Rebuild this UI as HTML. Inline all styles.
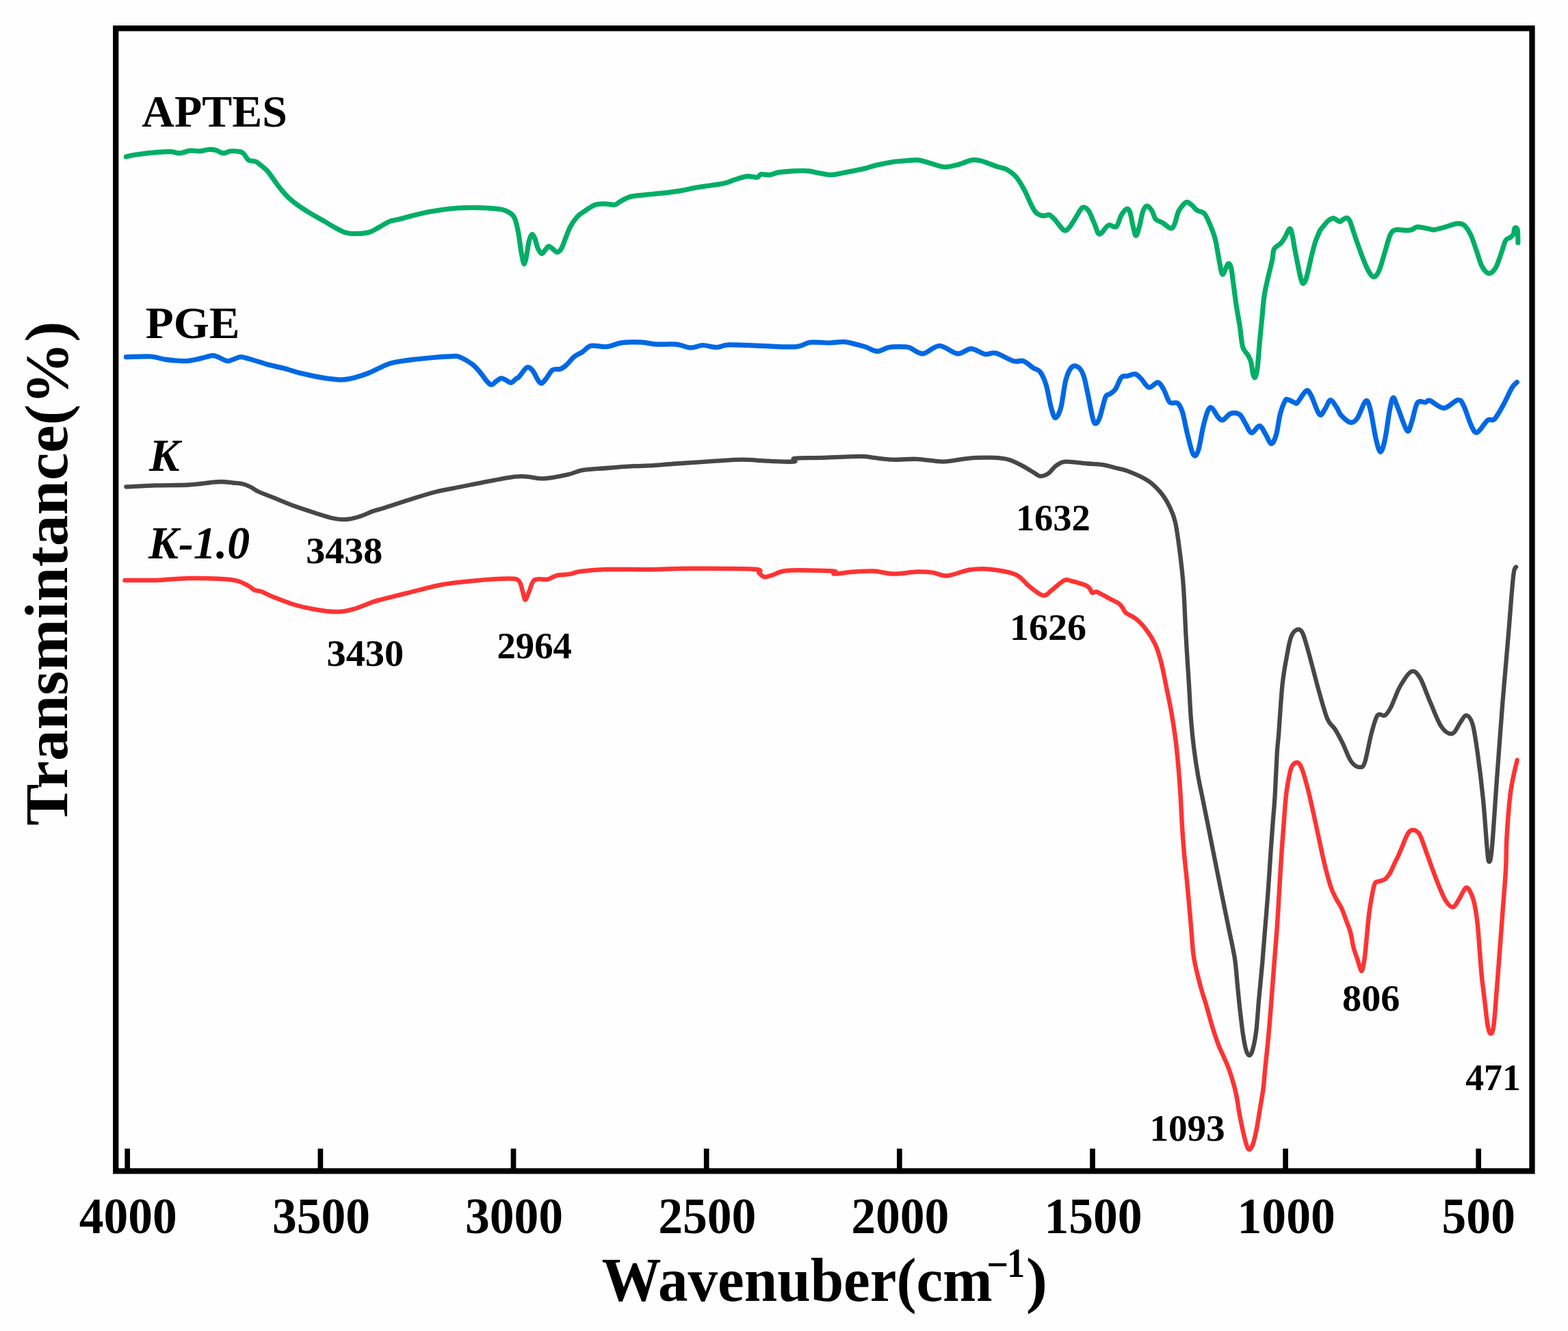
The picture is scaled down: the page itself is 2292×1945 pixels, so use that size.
<!DOCTYPE html>
<html><head><meta charset="utf-8"><title>FTIR spectra</title><style>
html,body{margin:0;padding:0;background:#fefefe;}
svg{display:block;}
text{font-family:"Liberation Serif","Times New Roman",serif;font-weight:bold;fill:#000;}
</style></head><body>
<svg width="2292" height="1945" viewBox="0 0 2292 1945">
<rect x="0" y="0" width="2292" height="1945" fill="#fefefe"/>
<g fill="none" stroke-linejoin="round" stroke-linecap="round">
<path d="M184.4,228.9 C186.8,228.4 191.2,227.1 198.9,226.0 C206.6,224.9 222.2,223.1 230.6,222.4 C239.0,221.7 244.1,221.4 249.4,221.6 C254.7,221.8 257.6,224.0 262.4,223.8 C267.2,223.6 273.1,220.7 278.2,220.2 C283.2,219.7 288.1,221.2 292.7,220.9 C297.3,220.6 301.8,218.7 305.6,218.5 C309.4,218.3 312.8,218.8 315.7,219.5 C318.6,220.2 320.8,222.3 323.0,223.0 C325.2,223.7 326.5,224.1 328.7,223.8 C330.9,223.5 332.4,221.4 336.0,221.0 C339.6,220.6 347.0,221.0 350.4,221.6 C353.8,222.2 353.9,222.4 356.1,224.5 C358.3,226.6 360.5,232.0 363.4,233.9 C366.3,235.8 370.6,234.8 373.5,236.0 C376.4,237.2 377.8,238.8 380.7,241.1 C383.6,243.4 387.4,246.1 390.8,249.8 C394.2,253.5 397.3,258.7 400.9,263.5 C404.5,268.3 408.5,274.0 412.4,278.6 C416.2,283.2 419.9,287.2 424.0,290.9 C428.1,294.6 431.8,297.4 437.0,301.0 C442.2,304.6 448.8,308.8 455.0,312.5 C461.2,316.2 468.8,320.2 474.4,323.5 C480.0,326.8 484.1,329.6 488.9,332.2 C493.7,334.8 498.5,337.8 503.3,339.4 C508.1,340.9 511.7,341.5 517.7,341.5 C523.7,341.5 533.4,340.9 539.4,339.4 C545.4,337.8 548.8,334.8 553.8,332.2 C558.8,329.6 564.9,325.4 569.7,323.5 C574.5,321.6 576.9,322.1 582.7,320.6 C588.5,319.2 597.1,316.6 604.3,314.8 C611.5,313.0 618.8,311.2 626.0,309.8 C633.2,308.4 640.4,307.2 647.6,306.2 C654.8,305.2 662.0,304.5 669.2,304.0 C676.4,303.5 683.7,303.3 690.9,303.3 C698.1,303.3 705.3,303.5 712.5,304.0 C719.7,304.5 728.9,305.1 734.2,306.2 C739.5,307.3 741.9,309.2 744.3,310.5 C746.7,311.8 747.3,312.2 748.7,313.7 C750.1,315.2 751.3,316.6 752.5,319.5 C753.7,322.4 754.8,326.7 755.8,331.0 C756.8,335.3 757.7,339.7 758.6,345.4 C759.5,351.1 760.5,359.2 761.4,365.0 C762.3,370.8 763.4,376.6 764.2,380.0 C765.0,383.4 765.5,386.4 766.4,385.5 C767.3,384.6 768.5,379.8 769.6,374.3 C770.7,368.8 771.9,358.0 773.2,352.7 C774.5,347.4 776.1,343.3 777.5,342.6 C778.9,341.9 780.3,344.9 781.8,348.3 C783.2,351.7 784.5,359.1 786.2,362.8 C787.9,366.5 790.0,370.5 791.9,370.7 C793.8,370.9 796.0,366.0 797.7,364.2 C799.4,362.4 800.3,360.0 802.0,359.9 C803.7,359.8 805.8,362.1 807.8,363.5 C809.8,364.9 812.1,368.6 814.3,368.5 C816.5,368.4 818.8,366.2 820.8,362.8 C822.8,359.4 824.4,353.6 826.6,348.3 C828.8,343.0 830.9,336.3 833.8,331.0 C836.7,325.7 840.3,320.5 843.9,316.6 C847.5,312.8 851.1,310.8 855.4,307.9 C859.7,305.0 865.1,301.0 869.9,299.3 C874.7,297.6 879.5,297.8 884.3,297.8 C889.1,297.8 895.1,299.8 898.7,299.3 C902.3,298.8 902.3,296.8 905.9,294.9 C909.5,293.0 914.4,289.4 920.4,287.7 C926.4,286.0 934.8,285.6 942.0,284.8 C949.2,284.0 955.3,283.6 963.7,282.7 C972.1,281.8 984.1,280.4 992.5,279.1 C1000.9,277.8 1008.0,275.9 1014.2,274.7 C1020.5,273.5 1022.5,273.3 1030.0,272.2 C1037.5,271.1 1051.7,269.4 1058.9,267.8 C1066.1,266.2 1067.8,264.5 1073.3,262.8 C1078.8,261.1 1086.5,258.3 1092.0,257.7 C1097.5,257.1 1103.1,259.7 1106.5,259.2 C1109.9,258.7 1109.2,255.4 1112.3,254.8 C1115.4,254.2 1120.9,256.1 1125.2,255.6 C1129.5,255.1 1132.4,252.9 1138.2,251.9 C1144.0,250.9 1152.7,250.2 1159.9,249.8 C1167.1,249.5 1175.5,249.3 1181.5,249.8 C1187.5,250.3 1190.5,251.7 1196.0,252.7 C1201.5,253.7 1208.7,255.6 1214.7,255.6 C1220.7,255.6 1224.8,254.0 1232.0,252.7 C1239.2,251.4 1249.6,249.5 1258.0,247.6 C1266.4,245.7 1274.8,242.9 1282.5,241.1 C1290.2,239.3 1298.0,237.8 1304.2,236.8 C1310.5,235.8 1313.8,235.7 1320.0,235.2 C1326.2,234.7 1335.1,233.4 1341.6,233.9 C1348.1,234.4 1352.5,236.5 1359.0,238.2 C1365.5,239.9 1373.6,243.6 1380.6,244.0 C1387.6,244.4 1394.1,242.1 1400.8,240.4 C1407.5,238.7 1415.2,234.7 1421.0,233.9 C1426.8,233.1 1429.4,233.8 1435.4,235.4 C1441.4,237.0 1451.1,241.3 1457.1,243.3 C1463.1,245.3 1466.7,244.9 1471.5,247.6 C1476.3,250.2 1481.6,254.1 1485.9,259.2 C1490.2,264.2 1493.9,271.2 1497.5,277.9 C1501.1,284.6 1504.7,294.1 1507.6,299.6 C1510.5,305.1 1511.9,308.5 1514.8,311.1 C1517.7,313.7 1521.8,314.9 1524.9,315.4 C1528.0,315.9 1530.7,313.0 1533.6,314.0 C1536.5,315.0 1538.6,317.5 1542.2,321.2 C1545.8,324.9 1551.6,334.7 1555.2,336.4 C1558.8,338.1 1560.8,334.8 1563.9,331.3 C1567.0,327.8 1570.9,320.1 1574.0,315.4 C1577.1,310.7 1579.7,304.4 1582.6,303.2 C1585.5,302.0 1588.4,304.2 1591.3,308.2 C1594.2,312.2 1597.2,321.4 1599.9,327.0 C1602.6,332.6 1603.8,341.7 1607.2,342.1 C1610.6,342.5 1616.0,331.0 1620.1,329.2 C1624.2,327.4 1628.5,333.7 1631.6,331.3 C1634.7,328.9 1636.4,319.0 1638.9,314.7 C1641.4,310.4 1644.7,306.1 1646.8,305.4 C1648.9,304.7 1650.2,306.2 1651.8,310.4 C1653.4,314.6 1654.8,325.0 1656.2,330.6 C1657.7,336.2 1658.9,344.3 1660.5,344.3 C1662.1,344.3 1663.9,336.5 1665.6,330.6 C1667.3,324.7 1668.8,313.9 1670.6,309.0 C1672.4,304.1 1674.2,301.2 1676.4,301.0 C1678.6,300.8 1681.4,304.2 1683.6,307.5 C1685.8,310.8 1686.8,317.5 1689.4,320.5 C1692.1,323.5 1695.9,323.4 1699.5,325.6 C1703.1,327.8 1708.1,333.1 1711.0,333.5 C1713.9,333.9 1714.9,331.8 1716.8,327.7 C1718.7,323.6 1720.4,313.8 1722.6,309.0 C1724.8,304.2 1727.6,301.2 1729.8,298.9 C1732.0,296.6 1733.3,295.1 1735.5,295.3 C1737.7,295.5 1740.4,298.3 1742.8,300.3 C1745.2,302.3 1747.1,305.6 1750.0,307.5 C1752.9,309.4 1757.2,308.9 1760.1,311.8 C1763.0,314.7 1764.7,318.8 1767.3,324.8 C1769.9,330.8 1773.5,339.0 1775.9,347.9 C1778.3,356.8 1780.0,369.5 1781.7,378.2 C1783.4,386.9 1784.8,397.3 1786.3,400.2 C1787.8,403.1 1788.9,398.0 1790.4,395.5 C1791.9,393.0 1793.6,386.2 1795.1,385.4 C1796.6,384.6 1798.2,386.3 1799.4,390.8 C1800.7,395.3 1801.3,403.3 1802.6,412.3 C1803.8,421.3 1805.3,433.8 1806.9,444.6 C1808.5,455.4 1810.7,466.5 1812.3,476.9 C1813.9,487.3 1814.6,500.1 1816.6,507.1 C1818.6,514.1 1822.2,515.3 1824.2,518.9 C1826.2,522.5 1827.2,523.9 1828.5,528.6 C1829.8,533.3 1830.6,543.1 1831.7,546.9 C1832.8,550.7 1833.8,553.0 1834.9,551.2 C1836.0,549.4 1837.1,544.9 1838.2,536.1 C1839.3,527.3 1840.3,510.1 1841.4,498.5 C1842.5,486.9 1843.5,477.0 1844.6,466.2 C1845.7,455.4 1846.4,443.7 1847.8,433.8 C1849.2,423.9 1851.2,415.9 1853.2,406.9 C1855.2,397.9 1858.2,387.2 1859.7,380.0 C1861.2,372.8 1860.3,367.9 1862.5,363.8 C1864.7,359.7 1869.9,358.0 1872.6,355.1 C1875.2,352.2 1876.3,350.0 1878.4,346.5 C1880.5,343.0 1883.3,335.1 1885.0,334.3 C1886.7,333.5 1887.5,336.9 1888.7,341.8 C1890.0,346.7 1891.2,356.9 1892.5,363.6 C1893.8,370.4 1895.0,376.1 1896.2,382.3 C1897.5,388.5 1898.8,395.8 1900.0,401.0 C1901.2,406.2 1902.4,411.9 1903.7,413.5 C1905.0,415.1 1906.6,413.5 1908.1,410.4 C1909.5,407.3 1910.9,401.0 1912.4,394.8 C1914.0,388.6 1915.7,379.8 1917.4,373.0 C1919.1,366.2 1920.7,359.5 1922.4,354.3 C1924.1,349.1 1926.1,344.8 1927.4,341.8 C1928.7,338.8 1928.6,338.2 1930.0,336.1 C1931.4,334.0 1933.9,331.2 1935.8,328.9 C1937.7,326.6 1939.3,324.2 1941.5,322.5 C1943.7,320.8 1946.6,318.9 1948.8,318.8 C1951.0,318.7 1952.8,321.0 1954.5,321.9 C1956.2,322.8 1957.5,324.2 1958.9,324.0 C1960.4,323.8 1961.5,321.7 1963.2,320.8 C1964.9,319.9 1967.3,318.1 1969.0,318.5 C1970.7,318.9 1972.1,320.9 1973.3,323.1 C1974.5,325.3 1975.2,328.8 1976.2,331.7 C1977.2,334.6 1978.1,337.5 1979.1,340.4 C1980.1,343.3 1979.7,342.5 1982.0,349.1 C1984.3,355.7 1990.0,371.8 1993.2,379.9 C1996.4,388.0 1998.8,393.8 2001.4,397.9 C2004.0,402.0 2006.2,405.0 2008.7,404.5 C2011.2,404.0 2013.5,400.7 2016.1,394.7 C2018.7,388.7 2021.6,377.2 2024.3,368.5 C2027.0,359.8 2029.8,347.8 2032.5,342.3 C2035.2,336.9 2036.8,336.8 2040.6,335.8 C2044.4,334.9 2051.6,336.6 2055.4,336.6 C2059.2,336.6 2060.8,336.6 2063.5,335.8 C2066.2,335.0 2067.6,332.0 2071.7,331.7 C2075.8,331.4 2084.0,333.5 2088.1,334.2 C2092.2,334.9 2092.1,336.2 2096.2,335.8 C2100.3,335.4 2107.1,333.2 2112.6,331.7 C2118.1,330.2 2124.3,327.2 2128.9,326.8 C2133.5,326.4 2136.9,326.3 2140.4,329.2 C2143.9,332.1 2147.2,337.7 2150.2,344.0 C2153.2,350.3 2155.7,359.3 2158.4,366.9 C2161.1,374.5 2163.6,384.4 2166.6,389.8 C2169.6,395.2 2173.1,399.3 2176.4,399.6 C2179.7,399.9 2183.2,396.3 2186.2,391.4 C2189.2,386.5 2191.9,376.8 2194.4,370.1 C2196.9,363.4 2198.7,355.1 2200.9,351.3 C2203.1,347.5 2205.5,348.7 2207.4,347.2 C2209.3,345.7 2211.2,344.6 2212.3,342.3 C2213.4,340.0 2213.0,334.4 2214.0,333.3 C2215.0,332.2 2217.3,332.2 2218.1,335.8 C2218.9,339.4 2218.8,351.5 2218.9,354.6" stroke="#00AE66" stroke-width="7.2" />
<path d="M184.4,521.7 C190.4,521.6 210.9,520.4 220.5,521.0 C230.1,521.6 233.8,524.3 242.2,525.4 C250.6,526.5 262.6,527.8 271.0,527.5 C279.4,527.2 286.2,525.2 292.7,523.9 C299.2,522.6 305.7,520.0 310.0,519.6 C314.3,519.2 315.0,520.4 318.6,521.7 C322.2,523.0 328.0,526.9 331.6,527.5 C335.2,528.1 336.9,526.4 340.3,525.4 C343.7,524.4 347.7,521.8 351.8,521.7 C355.9,521.6 357.8,522.7 364.8,524.6 C371.8,526.5 385.3,531.0 393.7,533.3 C402.1,535.6 408.1,536.4 415.3,538.3 C422.5,540.2 429.6,542.9 437.0,544.8 C444.4,546.7 452.6,548.4 460.0,549.9 C467.4,551.4 474.9,552.7 481.6,553.5 C488.3,554.3 494.4,555.1 500.4,554.9 C506.4,554.6 511.2,553.7 517.7,552.0 C524.2,550.3 532.2,547.7 539.4,544.8 C546.6,541.9 555.0,537.2 561.0,534.7 C567.0,532.2 568.2,531.2 575.4,529.7 C582.6,528.2 594.7,526.6 604.3,525.4 C613.9,524.2 623.6,523.3 633.2,522.5 C642.8,521.7 655.5,520.7 662.0,520.6 C668.5,520.5 667.3,519.7 672.1,521.7 C676.9,523.7 685.9,528.8 690.9,532.6 C695.9,536.5 699.0,540.8 702.4,544.8 C705.8,548.8 708.5,553.5 711.1,556.4 C713.8,559.3 715.9,562.1 718.3,562.2 C720.7,562.3 723.1,558.7 725.5,557.1 C727.9,555.5 730.3,553.0 732.7,552.8 C735.1,552.6 737.6,554.6 740.0,555.7 C742.4,556.8 744.8,559.7 747.2,559.3 C749.6,558.9 752.5,554.9 754.4,553.5 C756.3,552.1 756.1,553.5 758.7,550.7 C761.3,548.0 766.8,538.5 770.2,537.0 C773.6,535.5 776.2,539.0 778.9,542.0 C781.5,545.0 784.0,552.0 786.1,555.0 C788.2,558.0 789.6,560.6 791.8,560.1 C794.0,559.6 796.5,555.5 799.1,552.2 C801.8,549.0 804.3,542.8 807.7,540.6 C811.1,538.4 815.9,540.4 819.3,539.2 C822.7,538.0 824.5,536.4 827.9,533.4 C831.3,530.4 835.6,524.2 839.5,521.1 C843.4,518.0 846.9,517.2 851.0,514.6 C855.1,512.0 858.0,506.6 864.0,505.3 C870.0,504.0 879.6,507.4 887.1,506.7 C894.6,506.0 900.3,502.0 908.7,500.9 C917.1,499.8 929.2,499.8 937.6,500.2 C946.0,500.6 950.8,502.6 959.2,503.1 C967.6,503.6 979.7,502.3 988.1,503.1 C996.5,503.9 1003.2,507.9 1009.7,508.1 C1016.2,508.3 1020.8,504.6 1027.1,504.5 C1033.3,504.4 1040.7,507.6 1047.2,507.5 C1053.7,507.4 1055.2,504.2 1066.0,503.9 C1076.8,503.5 1096.1,504.9 1112.2,505.4 C1128.3,505.9 1150.7,507.6 1162.7,506.8 C1174.7,506.0 1175.9,501.3 1184.3,500.3 C1192.7,499.3 1204.8,501.1 1213.2,501.0 C1221.6,500.9 1227.6,499.0 1234.8,499.6 C1242.0,500.2 1251.5,503.4 1256.5,504.6 C1261.5,505.8 1260.8,505.4 1265.1,506.8 C1269.4,508.2 1276.6,513.2 1282.4,513.3 C1288.2,513.4 1293.2,508.6 1299.7,507.5 C1306.2,506.4 1316.4,506.7 1321.4,506.8 C1326.5,506.9 1325.4,506.4 1330.0,508.1 C1334.6,509.8 1341.6,517.3 1348.8,516.8 C1356.0,516.3 1364.9,505.3 1373.3,505.3 C1381.7,505.3 1391.6,516.1 1399.3,516.8 C1407.0,517.5 1412.8,509.5 1419.5,509.6 C1426.2,509.7 1433.7,516.4 1439.7,517.5 C1445.7,518.6 1448.5,514.4 1455.5,516.1 C1462.5,517.8 1474.8,525.7 1481.5,527.6 C1488.2,529.5 1491.2,525.9 1496.0,527.6 C1500.8,529.3 1506.3,535.1 1510.4,537.7 C1514.5,540.4 1517.4,539.4 1520.5,543.5 C1523.6,547.6 1526.4,553.6 1529.1,562.3 C1531.8,570.9 1534.1,587.3 1536.4,595.4 C1538.7,603.5 1540.4,610.6 1542.8,610.6 C1545.2,610.6 1548.3,604.7 1550.8,595.4 C1553.3,586.1 1555.3,564.9 1558.0,555.0 C1560.7,545.1 1563.6,539.3 1566.7,536.3 C1569.8,533.3 1573.9,534.8 1576.8,537.0 C1579.7,539.2 1581.8,543.2 1584.0,549.3 C1586.2,555.4 1587.5,563.7 1589.7,573.8 C1591.9,583.9 1595.1,602.4 1597.0,609.9 C1598.9,617.4 1599.6,618.8 1601.3,619.0 C1603.0,619.2 1604.8,617.4 1607.2,611.0 C1609.6,604.6 1613.5,586.3 1615.9,580.5 C1618.3,574.7 1619.2,578.1 1621.6,576.2 C1624.0,574.3 1627.4,573.1 1630.3,569.0 C1633.2,564.9 1636.1,554.9 1639.0,551.6 C1641.9,548.4 1644.2,550.3 1647.6,549.5 C1651.0,548.7 1655.8,546.0 1659.2,546.6 C1662.6,547.2 1664.4,549.9 1667.8,553.1 C1671.2,556.4 1675.3,565.1 1679.4,566.1 C1683.5,567.1 1688.8,558.4 1692.4,558.9 C1696.0,559.4 1698.1,564.2 1701.0,569.0 C1703.9,573.8 1706.3,584.3 1709.7,587.7 C1713.1,591.1 1718.1,586.8 1721.2,589.2 C1724.3,591.6 1726.0,594.8 1728.4,602.2 C1730.8,609.7 1732.9,623.6 1735.6,633.9 C1738.2,644.2 1741.6,660.1 1744.3,664.2 C1747.0,668.3 1749.1,665.1 1751.5,658.4 C1753.9,651.7 1756.3,633.6 1758.7,623.8 C1761.1,613.9 1763.8,603.9 1766.0,599.3 C1768.2,594.7 1769.3,594.7 1771.7,596.4 C1774.1,598.1 1777.8,606.5 1780.4,609.4 C1783.1,612.3 1784.5,614.6 1787.6,613.7 C1790.7,612.9 1795.0,605.6 1799.1,604.3 C1803.2,603.0 1808.5,603.3 1812.1,605.8 C1815.7,608.3 1817.9,615.0 1820.8,619.5 C1823.7,624.0 1826.0,632.0 1829.4,632.5 C1832.8,633.0 1837.6,622.2 1841.0,622.4 C1844.4,622.6 1846.7,629.6 1849.6,633.9 C1852.5,638.2 1855.6,648.1 1858.3,648.3 C1861.0,648.5 1863.3,642.5 1865.5,635.3 C1867.7,628.1 1869.1,613.3 1871.3,605.0 C1873.5,596.7 1876.6,589.1 1878.5,585.6 C1880.4,582.1 1880.4,583.6 1882.8,584.1 C1885.2,584.6 1890.6,587.8 1892.9,588.4 C1895.2,589.0 1894.0,590.9 1896.7,588.0 C1899.5,585.1 1906.0,572.6 1909.4,571.1 C1912.8,569.6 1913.7,572.9 1916.9,578.7 C1920.1,584.5 1925.3,602.6 1928.7,605.7 C1932.1,608.8 1934.4,600.7 1937.1,597.2 C1939.8,593.7 1941.9,584.9 1944.7,584.6 C1947.5,584.3 1951.3,591.8 1954.0,595.6 C1956.7,599.4 1957.3,603.7 1960.7,607.3 C1964.1,610.9 1970.3,616.8 1974.2,617.4 C1978.1,618.0 1980.7,615.9 1984.3,610.7 C1987.9,605.5 1993.0,588.5 1996.1,586.3 C1999.2,584.0 2000.3,588.1 2002.8,597.2 C2005.3,606.3 2008.7,630.5 2011.2,641.0 C2013.7,651.5 2015.8,660.4 2018.0,660.4 C2020.2,660.4 2022.5,651.2 2024.7,641.0 C2026.9,630.8 2029.4,608.9 2031.4,598.9 C2033.4,588.9 2034.5,581.8 2036.5,581.2 C2038.5,580.7 2039.8,587.6 2043.2,595.6 C2046.6,603.6 2053.3,625.6 2056.7,629.2 C2060.1,632.8 2060.9,624.1 2063.4,617.4 C2065.9,610.7 2068.4,593.7 2071.8,588.8 C2075.2,583.9 2080.5,588.5 2083.6,588.0 C2086.7,587.5 2085.8,584.1 2090.3,585.5 C2094.8,586.9 2103.8,596.5 2110.5,596.4 C2117.2,596.2 2125.9,585.3 2130.7,584.6 C2135.5,583.9 2135.8,585.9 2139.2,592.2 C2142.6,598.5 2147.5,615.9 2150.9,622.5 C2154.3,629.1 2155.5,633.2 2159.4,631.8 C2163.3,630.4 2170.3,617.3 2174.5,614.1 C2178.7,610.9 2180.7,616.3 2184.6,612.4 C2188.5,608.5 2193.9,598.1 2198.1,590.5 C2202.3,582.9 2206.7,572.2 2209.9,566.9 C2213.1,561.6 2216.2,559.9 2217.4,558.5" stroke="#0068E4" stroke-width="7.2" />
<path d="M184.4,711.4 C191.6,711.1 212.5,709.9 227.7,709.4 C242.9,708.9 262.3,709.2 275.8,708.5 C289.3,707.8 300.5,705.8 308.5,705.0 C316.5,704.2 318.6,703.9 323.9,704.0 C329.1,704.1 335.0,705.0 340.0,705.5 C345.0,706.0 349.7,706.0 354.0,707.0 C358.3,708.0 362.0,709.6 366.0,711.5 C370.0,713.4 372.2,715.8 378.0,718.5 C383.8,721.2 392.3,724.2 400.9,727.7 C409.5,731.2 420.1,735.8 429.7,739.3 C439.3,742.8 449.0,745.9 458.6,748.9 C468.2,751.9 479.5,755.8 487.5,757.5 C495.5,759.2 500.3,759.4 506.7,758.9 C513.1,758.4 519.5,756.7 525.9,754.7 C532.3,752.7 539.5,749.0 545.2,747.0 C550.9,745.0 551.1,745.5 560.0,742.7 C568.9,739.9 585.7,734.2 598.5,730.2 C611.3,726.2 624.2,721.9 637.0,718.7 C649.8,715.5 662.6,713.6 675.4,711.0 C688.2,708.4 701.1,705.7 713.9,703.3 C726.7,700.9 742.8,697.7 752.4,696.6 C762.0,695.5 764.5,696.1 771.6,696.6 C778.7,697.1 785.1,699.9 794.7,699.4 C804.3,698.9 819.8,695.8 829.4,693.7 C839.0,691.6 842.8,688.5 852.4,686.9 C862.0,685.3 874.9,685.0 887.1,684.0 C899.3,683.0 915.1,681.8 925.6,681.2 C936.1,680.6 939.5,681.0 950.0,680.4 C960.5,679.8 972.5,678.6 988.5,677.5 C1004.5,676.4 1030.2,674.7 1046.2,673.7 C1062.2,672.7 1071.9,671.7 1084.7,671.7 C1097.5,671.7 1110.5,673.2 1123.2,673.7 C1135.9,674.2 1154.3,675.2 1160.7,674.6 C1167.1,674.0 1155.0,670.8 1161.6,669.8 C1168.2,668.8 1184.1,669.4 1200.1,668.9 C1216.1,668.4 1245.0,666.9 1257.8,666.9 C1270.6,666.9 1269.1,668.1 1277.1,668.9 C1285.1,669.7 1295.4,671.4 1305.9,671.7 C1316.4,672.0 1327.9,670.3 1340.0,670.8 C1352.1,671.3 1367.3,674.6 1378.5,674.6 C1389.7,674.6 1399.3,671.8 1407.3,670.8 C1415.3,669.8 1418.6,669.2 1426.6,668.9 C1434.6,668.6 1447.4,668.4 1455.4,668.9 C1463.4,669.4 1468.3,669.8 1474.7,671.7 C1481.1,673.6 1487.5,677.0 1493.9,680.4 C1500.3,683.8 1508.7,689.3 1513.2,691.9 C1517.7,694.5 1517.7,695.8 1520.9,695.8 C1524.1,695.8 1528.6,694.5 1532.4,691.9 C1536.2,689.3 1539.7,683.3 1543.9,680.4 C1548.1,677.5 1549.7,675.1 1557.4,674.6 C1565.1,674.1 1580.8,676.7 1590.1,677.5 C1599.4,678.3 1606.8,678.4 1613.2,679.4 C1619.6,680.4 1622.8,681.8 1628.6,683.3 C1634.4,684.8 1639.8,685.0 1647.8,688.1 C1655.8,691.2 1668.7,696.5 1676.7,701.6 C1684.7,706.7 1690.5,712.5 1695.9,718.9 C1701.4,725.3 1705.7,732.5 1709.4,740.0 C1713.1,747.5 1715.5,751.9 1718.1,763.8 C1720.7,775.7 1723.2,795.5 1725.2,811.4 C1727.2,827.3 1728.6,839.1 1730.0,859.0 C1731.4,878.9 1732.3,906.9 1733.6,930.5 C1734.9,954.1 1736.8,980.6 1738.0,1000.8 C1739.2,1021.0 1739.8,1036.5 1741.0,1051.8 C1742.2,1067.1 1743.4,1079.1 1745.1,1092.7 C1746.8,1106.3 1748.8,1119.9 1751.2,1133.5 C1753.6,1147.1 1756.7,1160.7 1759.4,1174.3 C1762.1,1187.9 1764.9,1201.5 1767.6,1215.1 C1770.3,1228.7 1772.7,1240.6 1775.7,1255.9 C1778.8,1271.2 1782.7,1290.8 1785.9,1306.9 C1789.2,1323.0 1792.1,1336.9 1795.2,1352.4 C1798.3,1367.9 1802.5,1385.4 1804.8,1400.0 C1807.1,1414.6 1807.6,1427.3 1808.9,1440.0 C1810.2,1452.7 1811.2,1464.2 1812.6,1476.3 C1814.0,1488.4 1815.6,1502.8 1817.1,1512.6 C1818.6,1522.4 1820.1,1530.2 1821.6,1535.2 C1823.1,1540.2 1824.7,1542.3 1826.2,1542.3 C1827.7,1542.3 1829.1,1540.9 1830.7,1535.2 C1832.3,1529.5 1834.5,1520.5 1836.1,1508.0 C1837.7,1495.5 1838.7,1477.0 1840.2,1460.0 C1841.7,1443.0 1843.8,1423.6 1845.3,1406.1 C1846.8,1388.6 1848.0,1372.1 1849.4,1355.1 C1850.8,1338.1 1852.1,1322.8 1853.5,1304.1 C1854.9,1285.4 1856.4,1259.9 1857.6,1242.9 C1858.8,1225.9 1859.6,1215.6 1860.6,1202.0 C1861.6,1188.4 1862.7,1178.2 1863.7,1161.2 C1864.7,1144.2 1865.8,1114.7 1866.7,1100.0 C1867.6,1085.3 1867.8,1089.5 1869.1,1072.8 C1870.4,1056.1 1872.5,1019.5 1874.6,999.7 C1876.7,979.9 1879.8,965.6 1881.9,954.0 C1884.0,942.4 1885.1,935.8 1887.4,930.2 C1889.7,924.6 1892.8,921.1 1895.6,920.2 C1898.3,919.3 1901.0,919.1 1903.9,924.7 C1906.8,930.3 1909.0,940.0 1913.0,954.0 C1917.0,968.0 1923.0,992.7 1927.6,1008.8 C1932.2,1024.9 1936.4,1041.3 1940.4,1050.8 C1944.4,1060.2 1947.7,1059.7 1951.4,1065.5 C1955.1,1071.3 1958.4,1077.7 1962.4,1085.6 C1966.4,1093.5 1970.9,1107.1 1975.2,1113.0 C1979.5,1118.9 1984.7,1121.2 1988.0,1121.2 C1991.3,1121.2 1992.6,1121.1 1995.3,1113.0 C1998.0,1104.9 2001.4,1084.1 2004.4,1072.8 C2007.4,1061.5 2010.2,1050.0 2013.5,1045.4 C2016.8,1040.8 2021.2,1047.5 2024.5,1045.4 C2027.8,1043.3 2029.9,1039.6 2033.6,1032.6 C2037.2,1025.6 2041.5,1011.8 2046.4,1003.3 C2051.3,994.8 2058.0,983.5 2062.9,981.4 C2067.8,979.3 2071.1,983.2 2075.7,990.5 C2080.3,997.8 2085.1,1013.4 2090.3,1025.3 C2095.5,1037.2 2101.4,1054.0 2106.8,1061.8 C2112.2,1069.6 2118.1,1073.1 2122.7,1072.2 C2127.3,1071.3 2130.8,1060.8 2134.2,1056.3 C2137.6,1051.8 2140.2,1045.1 2143.3,1045.4 C2146.4,1045.7 2149.8,1049.1 2152.5,1058.2 C2155.2,1067.3 2157.2,1081.8 2159.8,1100.2 C2162.4,1118.6 2165.7,1145.4 2168.0,1168.6 C2170.3,1191.8 2172.3,1224.4 2173.7,1239.5 C2175.1,1254.6 2175.4,1259.3 2176.6,1259.3 C2177.8,1259.3 2178.9,1259.3 2180.8,1239.5 C2182.7,1219.7 2185.3,1175.7 2187.9,1140.2 C2190.5,1104.8 2193.6,1062.2 2196.4,1026.8 C2199.2,991.4 2202.3,958.3 2204.9,927.6 C2207.5,896.9 2210.1,859.0 2212.0,842.5 C2213.9,826.0 2215.5,830.8 2216.2,828.4" stroke="#474747" stroke-width="6.3" />
<path d="M182.5,847.9 C190.0,847.9 212.1,848.4 227.7,847.9 C243.2,847.4 259.8,845.3 275.8,845.0 C291.8,844.7 312.0,845.4 323.9,846.0 C335.8,846.6 340.6,847.3 347.0,848.9 C353.4,850.5 358.2,853.4 362.4,855.6 C366.6,857.8 368.8,860.8 372.0,862.3 C375.2,863.8 376.8,862.5 381.6,864.3 C386.4,866.1 392.9,869.7 400.9,872.9 C408.9,876.1 420.1,880.6 429.7,883.5 C439.3,886.4 448.0,888.4 458.6,890.2 C469.2,892.0 483.6,894.1 493.2,894.1 C502.8,894.1 507.6,892.6 516.3,890.2 C525.0,887.8 537.9,882.1 545.2,879.6 C552.5,877.1 551.1,877.7 560.0,875.4 C568.9,873.1 584.1,869.3 598.5,865.8 C612.9,862.3 630.6,857.2 646.6,854.3 C662.6,851.4 678.7,850.0 694.7,848.5 C710.7,847.0 732.2,845.6 742.8,845.6 C753.4,845.6 754.7,845.5 758.2,848.5 C761.7,851.5 762.3,859.2 763.9,863.9 C765.5,868.5 766.2,876.4 767.8,876.4 C769.4,876.4 771.4,868.7 773.6,863.9 C775.9,859.1 776.8,850.4 781.3,847.5 C785.8,844.6 795.0,847.7 800.5,846.6 C806.0,845.5 808.5,842.1 814.0,840.8 C819.5,839.5 827.4,839.9 833.2,838.9 C839.0,837.9 839.6,836.1 848.6,835.0 C857.6,833.9 870.2,832.6 887.1,832.1 C904.0,831.6 929.9,832.4 950.0,832.2 C970.1,832.0 982.4,830.9 1007.7,830.8 C1033.0,830.7 1085.0,830.6 1102.0,831.7 C1119.0,832.8 1107.1,835.6 1109.7,837.5 C1112.3,839.4 1114.2,842.8 1117.4,843.3 C1120.6,843.8 1123.1,842.0 1128.9,840.4 C1134.7,838.8 1137.2,834.7 1152.0,833.7 C1166.8,832.7 1206.2,833.8 1217.4,834.6 C1228.6,835.4 1214.3,838.3 1219.4,838.5 C1224.5,838.7 1238.6,836.2 1248.2,835.6 C1257.8,835.0 1267.5,834.1 1277.1,834.6 C1286.7,835.1 1295.4,838.3 1305.9,838.5 C1316.4,838.7 1330.5,835.9 1340.0,835.6 C1349.5,835.3 1355.7,835.6 1363.1,836.6 C1370.5,837.6 1375.3,842.0 1384.3,841.4 C1393.3,840.8 1406.8,834.3 1417.0,832.7 C1427.2,831.1 1434.6,830.6 1445.8,831.7 C1457.0,832.8 1474.7,835.4 1484.3,839.4 C1493.9,843.4 1496.8,850.7 1503.5,855.8 C1510.2,860.9 1518.9,869.2 1524.7,870.2 C1530.5,871.2 1533.1,865.3 1538.2,861.6 C1543.3,857.9 1550.8,850.2 1555.5,848.1 C1560.2,846.0 1562.9,848.4 1566.3,849.0 C1569.7,849.6 1572.3,850.6 1575.9,851.7 C1579.5,852.8 1584.9,854.2 1587.8,855.7 C1590.7,857.2 1591.8,858.7 1593.3,860.5 C1594.8,862.3 1594.9,865.6 1596.5,866.3 C1598.1,867.0 1600.4,864.3 1602.9,864.8 C1605.4,865.3 1608.2,867.4 1611.6,869.2 C1615.0,871.0 1619.5,873.5 1623.5,875.6 C1627.5,877.7 1632.5,879.8 1635.4,881.9 C1638.3,884.0 1639.3,886.0 1641.0,888.3 C1642.7,890.5 1642.7,892.9 1645.7,895.4 C1648.7,897.9 1655.2,900.4 1659.2,903.3 C1663.2,906.2 1666.5,909.6 1669.5,912.9 C1672.5,916.2 1675.1,919.9 1677.5,923.2 C1679.9,926.5 1681.7,929.0 1683.8,932.7 C1685.9,936.4 1688.4,941.2 1690.2,945.4 C1692.0,949.6 1693.0,953.1 1694.5,958.0 C1696.0,962.9 1697.4,967.9 1699.0,975.0 C1700.6,982.1 1702.1,989.7 1704.3,1000.8 C1706.5,1011.9 1710.0,1028.0 1712.4,1041.6 C1714.8,1055.2 1716.9,1068.8 1718.6,1082.4 C1720.3,1096.0 1721.5,1109.7 1722.7,1123.3 C1723.9,1136.9 1724.9,1150.5 1725.7,1164.1 C1726.5,1177.7 1727.0,1191.3 1727.8,1204.9 C1728.6,1218.5 1729.6,1232.1 1730.8,1245.7 C1732.0,1259.3 1733.7,1274.1 1734.9,1286.5 C1736.1,1298.9 1736.9,1308.1 1738.0,1320.0 C1739.1,1331.9 1740.1,1344.7 1741.3,1358.0 C1742.5,1371.3 1743.0,1386.3 1745.2,1400.0 C1747.4,1413.7 1751.6,1428.8 1754.5,1440.0 C1757.4,1451.2 1759.8,1457.4 1762.7,1467.2 C1765.6,1477.0 1768.7,1489.2 1771.7,1499.0 C1774.7,1508.8 1777.6,1517.9 1780.8,1526.2 C1784.0,1534.5 1787.9,1542.0 1790.8,1548.8 C1793.7,1555.6 1795.9,1561.0 1798.0,1567.0 C1800.1,1573.0 1801.9,1579.3 1803.5,1585.1 C1805.1,1590.9 1806.3,1595.4 1807.6,1602.0 C1808.9,1608.6 1809.7,1616.5 1811.2,1624.7 C1812.7,1632.9 1814.7,1643.2 1816.5,1651.1 C1818.3,1659.0 1820.2,1667.5 1821.8,1672.3 C1823.4,1677.1 1824.4,1679.7 1826.0,1679.7 C1827.6,1679.7 1829.5,1677.1 1831.3,1672.3 C1833.1,1667.5 1834.8,1659.9 1836.6,1651.1 C1838.4,1642.3 1840.3,1629.2 1841.9,1619.4 C1843.5,1609.6 1845.2,1600.7 1846.4,1592.0 C1847.6,1583.3 1847.5,1580.2 1848.8,1567.0 C1850.1,1553.8 1852.7,1530.4 1854.3,1512.6 C1855.9,1494.8 1857.2,1477.8 1858.6,1460.0 C1860.0,1442.2 1861.3,1423.6 1862.7,1406.1 C1864.1,1388.6 1865.5,1372.1 1866.7,1355.1 C1867.9,1338.1 1868.8,1321.1 1869.8,1304.1 C1870.8,1287.1 1871.9,1268.4 1872.9,1253.1 C1873.9,1237.8 1874.7,1227.5 1875.9,1212.2 C1877.1,1196.9 1878.5,1174.8 1880.0,1161.2 C1881.5,1147.6 1883.6,1137.6 1885.1,1130.6 C1886.6,1123.6 1887.3,1121.7 1889.0,1119.0 C1890.7,1116.3 1893.4,1114.5 1895.3,1114.3 C1897.2,1114.1 1898.8,1115.3 1900.5,1118.0 C1902.2,1120.7 1903.3,1123.4 1905.5,1130.6 C1907.7,1137.8 1910.5,1147.8 1913.8,1161.3 C1917.0,1174.8 1921.8,1197.1 1925.0,1211.9 C1928.2,1226.7 1930.8,1239.2 1933.2,1250.0 C1935.7,1260.8 1937.5,1268.8 1939.7,1276.9 C1941.9,1285.0 1943.9,1292.2 1946.2,1298.5 C1948.5,1304.8 1951.2,1309.8 1953.7,1314.6 C1956.2,1319.4 1958.9,1322.6 1961.2,1327.6 C1963.5,1332.6 1965.5,1338.9 1967.7,1344.8 C1969.9,1350.7 1972.4,1356.4 1974.2,1363.1 C1976.0,1369.8 1976.9,1378.4 1978.5,1384.7 C1980.1,1391.0 1982.3,1395.8 1983.9,1400.8 C1985.5,1405.8 1987.0,1411.9 1988.2,1414.8 C1989.4,1417.7 1989.8,1420.3 1990.9,1418.0 C1992.0,1415.7 1993.4,1409.0 1994.6,1400.8 C1995.8,1392.5 1996.8,1379.3 1997.9,1368.5 C1999.0,1357.7 1999.8,1346.1 2001.1,1336.2 C2002.3,1326.3 2004.0,1316.8 2005.4,1309.2 C2006.8,1301.7 2007.9,1294.5 2009.7,1290.9 C2011.5,1287.3 2013.7,1288.8 2016.2,1287.7 C2018.7,1286.6 2022.1,1286.7 2024.8,1284.5 C2027.5,1282.3 2030.0,1278.8 2032.3,1274.8 C2034.6,1270.8 2036.8,1264.9 2038.8,1260.8 C2040.8,1256.7 2042.2,1254.4 2044.2,1250.0 C2046.2,1245.6 2048.4,1239.8 2050.7,1234.4 C2053.0,1229.0 2055.7,1221.2 2058.2,1217.6 C2060.7,1214.0 2062.9,1212.6 2065.7,1212.9 C2068.5,1213.2 2071.6,1213.3 2075.1,1219.4 C2078.6,1225.5 2082.3,1238.5 2086.4,1249.4 C2090.5,1260.4 2095.1,1274.1 2099.5,1285.1 C2103.9,1296.0 2108.5,1308.4 2112.6,1315.1 C2116.7,1321.8 2120.5,1325.7 2123.9,1325.4 C2127.3,1325.1 2130.1,1317.9 2133.2,1313.2 C2136.3,1308.5 2139.9,1298.8 2142.6,1297.3 C2145.3,1295.8 2147.4,1299.9 2149.5,1303.9 C2151.6,1308.0 2153.7,1313.7 2155.4,1321.6 C2157.1,1329.5 2158.6,1340.0 2159.8,1351.1 C2161.0,1362.2 2161.8,1375.7 2162.8,1388.0 C2163.8,1400.3 2164.5,1412.6 2165.7,1424.9 C2166.9,1437.2 2168.6,1449.4 2170.1,1461.7 C2171.6,1474.0 2173.1,1490.5 2174.6,1498.6 C2176.1,1506.7 2177.5,1510.4 2179.0,1510.4 C2180.5,1510.4 2181.9,1509.2 2183.4,1498.6 C2184.9,1488.0 2186.3,1465.4 2187.8,1447.0 C2189.3,1428.6 2190.8,1407.7 2192.3,1388.0 C2193.8,1368.3 2195.2,1348.7 2196.7,1329.0 C2198.2,1309.3 2200.1,1288.0 2201.1,1270.0 C2202.1,1252.0 2201.4,1240.3 2202.6,1221.3 C2203.8,1202.2 2205.8,1174.2 2208.3,1155.7 C2210.8,1137.2 2216.1,1118.1 2217.7,1110.6" stroke="#FF3333" stroke-width="6.5" />
</g>
<rect x="169.25" y="41.4" width="2070.25" height="1669.9" fill="none" stroke="#000" stroke-width="8.3"/>
<g stroke="#000" stroke-width="7.7"><line x1="186.2" y1="1678.5" x2="186.2" y2="1708" /><line x1="468.4" y1="1678.5" x2="468.4" y2="1708" /><line x1="750.5" y1="1678.5" x2="750.5" y2="1708" /><line x1="1032.7" y1="1678.5" x2="1032.7" y2="1708" /><line x1="1314.8" y1="1678.5" x2="1314.8" y2="1708" /><line x1="1597.0" y1="1678.5" x2="1597.0" y2="1708" /><line x1="1879.1" y1="1678.5" x2="1879.1" y2="1708" /><line x1="2161.2" y1="1678.5" x2="2161.2" y2="1708" /></g>
<g><text x="115.7" y="1801.8" font-size="73.0" textLength="143.1" lengthAdjust="spacingAndGlyphs">4000</text><text x="397.9" y="1801.8" font-size="73.0" textLength="143.1" lengthAdjust="spacingAndGlyphs">3500</text><text x="680.0" y="1801.8" font-size="73.0" textLength="143.1" lengthAdjust="spacingAndGlyphs">3000</text><text x="962.2" y="1801.8" font-size="73.0" textLength="143.1" lengthAdjust="spacingAndGlyphs">2500</text><text x="1244.3" y="1801.8" font-size="73.0" textLength="143.1" lengthAdjust="spacingAndGlyphs">2000</text><text x="1526.5" y="1801.8" font-size="73.0" textLength="143.1" lengthAdjust="spacingAndGlyphs">1500</text><text x="1808.6" y="1801.8" font-size="73.0" textLength="143.1" lengthAdjust="spacingAndGlyphs">1000</text><text x="2107.6" y="1801.8" font-size="73.0" textLength="107.3" lengthAdjust="spacingAndGlyphs">500</text></g>
<text x="879.6" y="1900.5" font-size="90" textLength="571.1" lengthAdjust="spacingAndGlyphs">Wavenuber(cm</text><text x="1442.2" y="1868.9" font-size="62.0" textLength="31.9" lengthAdjust="spacingAndGlyphs">&#8722;</text><text x="1472.1" y="1865.6" font-size="62.0" textLength="26.1" lengthAdjust="spacingAndGlyphs">1</text><text x="1499.7" y="1900.5" font-size="90" textLength="31.3" lengthAdjust="spacingAndGlyphs">)</text>
<text transform="translate(97.6,1206.5) rotate(-90)" x="0" y="0" font-size="88" textLength="737.0" lengthAdjust="spacingAndGlyphs">Transmintance(%)</text>
<text x="207.3" y="185.2" font-size="66.3" textLength="212.5" lengthAdjust="spacingAndGlyphs" fill="#111">APTES</text>
<text x="212.7" y="493.9" font-size="66.3" textLength="137.8" lengthAdjust="spacingAndGlyphs" fill="#111">PGE</text>
<text x="218.1" y="687.6" font-size="67.1" textLength="44.6" lengthAdjust="spacingAndGlyphs" font-style="italic" fill="#111">K</text>
<text x="217.0" y="816.1" font-size="68.4" textLength="148.1" lengthAdjust="spacingAndGlyphs" font-style="italic" fill="#111">K-1.0</text>
<text x="447.3" y="823.0" font-size="55.5" textLength="112.1" lengthAdjust="spacingAndGlyphs" fill="#111">3438</text>
<text x="477.5" y="973.4" font-size="55.5" textLength="112.7" lengthAdjust="spacingAndGlyphs" fill="#111">3430</text>
<text x="726.5" y="961.5" font-size="55.5" textLength="109.4" lengthAdjust="spacingAndGlyphs" fill="#111">2964</text>
<text x="1484.9" y="775.1" font-size="55.5" textLength="108.8" lengthAdjust="spacingAndGlyphs" fill="#111">1632</text>
<text x="1476.0" y="934.5" font-size="55.5" textLength="112.0" lengthAdjust="spacingAndGlyphs" fill="#111">1626</text>
<text x="1680.4" y="1666.9" font-size="55.5" textLength="110.3" lengthAdjust="spacingAndGlyphs" fill="#111">1093</text>
<text x="1962.1" y="1477.0" font-size="55.5" textLength="84.2" lengthAdjust="spacingAndGlyphs" fill="#111">806</text>
<text x="2142.2" y="1593.0" font-size="55.5" textLength="80.8" lengthAdjust="spacingAndGlyphs" fill="#111">471</text>
</svg>
</body></html>
